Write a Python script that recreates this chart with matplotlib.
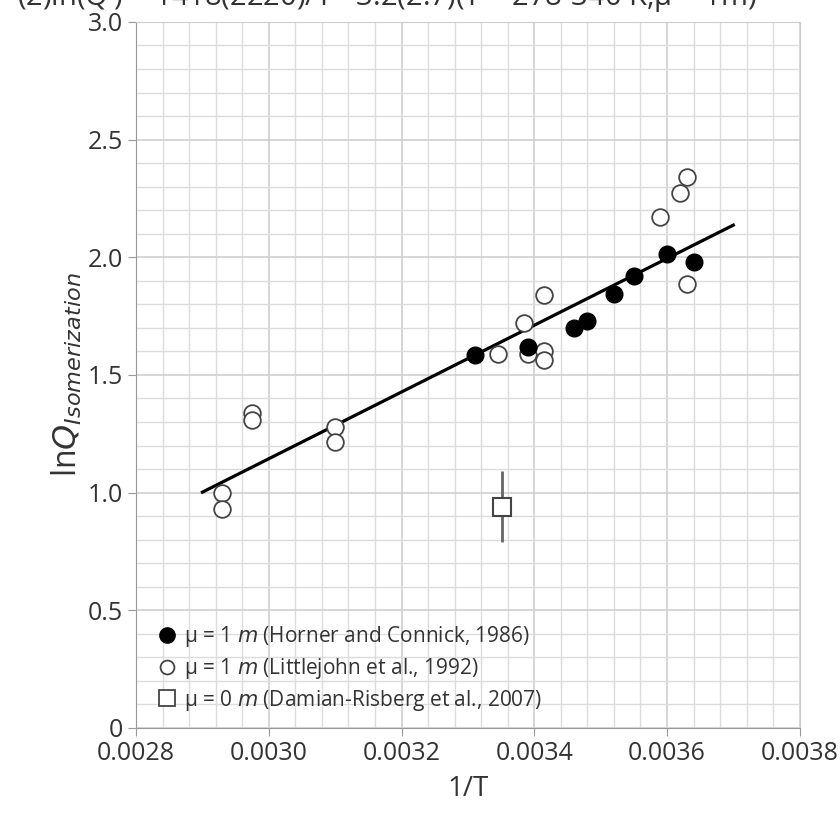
import matplotlib
matplotlib.use("Agg")
import matplotlib.pyplot as plt
from matplotlib.ticker import MultipleLocator
from matplotlib.lines import Line2D

# Horner and Connick, 1986 (filled)
hc_x = [0.00331, 0.00339, 0.00346, 0.00348, 0.00352, 0.00355, 0.00360, 0.00364]
hc_y = [1.585, 1.62, 1.70, 1.73, 1.845, 1.92, 2.015, 1.98]

# Littlejohn et al., 1992 (open)
lj_x = [0.00293, 0.00293, 0.002975, 0.002975, 0.00310, 0.00310, 0.003345, 0.003385,
        0.00339, 0.003415, 0.003415, 0.003415, 0.00359, 0.00362, 0.00363, 0.00363]
lj_y = [1.00, 0.93, 1.34, 1.31, 1.28, 1.215, 1.59, 1.72,
        1.59, 1.60, 1.565, 1.84, 2.17, 2.275, 2.34, 1.885]

# Damian-Risberg et al., 2007 (square, with error)
dr_x = [0.003351]
dr_y = [0.94]
dr_err = [0.15]

# fit line lnQ = a/T + b
fit_a, fit_b = 1418, -3.11
fit_x = [0.0029, 0.0037]
fit_y = [fit_a * v + fit_b for v in fit_x]

ytick_vals = [0, 0.5, 1.0, 1.5, 2.0, 2.5, 3.0]
ytick_labels = ["0", "0.5", "1.0", "1.5", "2.0", "2.5", "3.0"]

lab_hc = r"μ = 1 $\it{m}$ (Horner and Connick, 1986)"
lab_lj = r"μ = 1 $\it{m}$ (Littlejohn et al., 1992)"
lab_dr = r"μ = 0 $\it{m}$ (Damian-Risberg et al., 2007)"

plt.rcParams["font.family"] = ["Open Sans", "DejaVu Sans"]
fig = plt.figure(figsize=(8.4, 8.21), dpi=100)
ax = fig.add_axes([0.162, 0.1133, 0.790, 0.860])

ax.plot(fit_x, fit_y, color="black", lw=2.3, zorder=3)
ax.plot(lj_x, lj_y, ls="none", marker="o", ms=12, mfc="white", mec="#444444", mew=1.3, zorder=4)
ax.plot(hc_x, hc_y, ls="none", marker="o", ms=12, mfc="black", mec="black", zorder=5)
ax.errorbar(dr_x, dr_y, yerr=dr_err, fmt="s", ms=13, mfc="white", mec="#444444", mew=1.5,
            ecolor="#666666", elinewidth=2, capsize=0, zorder=4)

ax.set_xlim(0.0028, 0.0038)
ax.set_ylim(0, 3.0)
ax.xaxis.set_major_locator(MultipleLocator(0.0002))
ax.xaxis.set_minor_locator(MultipleLocator(0.00004))
ax.yaxis.set_minor_locator(MultipleLocator(0.1))
ax.set_xticks(ax.get_xticks())
ax.set_xticklabels([f"{v:.4f}" for v in ax.get_xticks()])
ax.set_xlim(0.0028, 0.0038)
ax.set_yticks(ytick_vals)
ax.set_yticklabels(ytick_labels)
ax.grid(True, which="major", color="#cfcfcf", lw=1.2)
ax.grid(True, which="minor", color="#dcdcdc", lw=1.0)
ax.set_axisbelow(True)
ax.tick_params(which="major", length=6, color="#999999", labelsize=18, labelcolor="#333333")
ax.tick_params(which="minor", length=0)
for s in ax.spines.values():
    s.set_color("#cccccc")
ax.spines["left"].set_color("#999999")
ax.spines["bottom"].set_color("#999999")

ax.set_xlabel("1/T", fontsize=20, color="#333333", labelpad=6)
ax.set_ylabel(r"ln$\it{Q}_{\it{Isomerization}}$", fontsize=23, color="#333333", labelpad=2)

handles = [
    Line2D([], [], ls="none", marker="o", ms=11, mfc="black", mec="black"),
    Line2D([], [], ls="none", marker="o", ms=10, mfc="white", mec="#444444", mew=1.3),
    Line2D([], [], ls="none", marker="s", ms=11, mfc="white", mec="#444444", mew=1.3),
]
ax.legend(handles, [lab_hc, lab_lj, lab_dr], loc="lower left",
          bbox_to_anchor=(0.0, -0.005), frameon=False, fontsize=15, handletextpad=0.2,
          handlelength=1.2, labelspacing=0.32, labelcolor="#333333")

fig.text(0.02, 1.003, r"(2)ln(Q$^{\prime}$) = 1418(2220)/T - 3.2(2.7)(T = 278-340 K,μ = 1m)",
         fontsize=21, color="#333333", va="center", ha="left")

fig.savefig("out.png", dpi=100)
